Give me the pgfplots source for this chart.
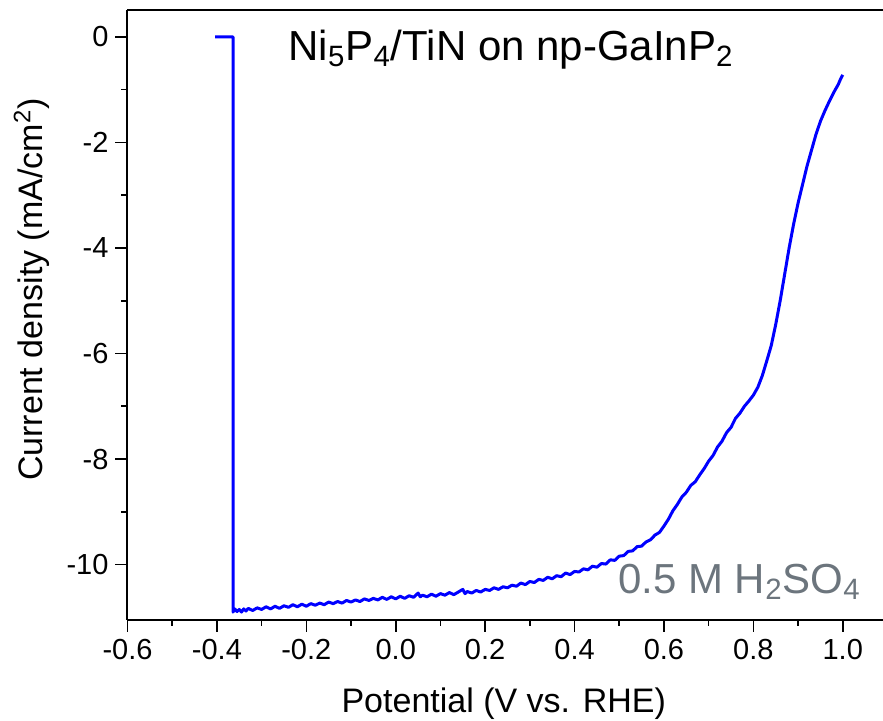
\documentclass[border=0pt]{standalone}
\usepackage{fontspec}
\setmainfont{Liberation Sans}
\usepackage{pgfplots}
\pgfplotsset{compat=1.18}
\definecolor{saltgray}{RGB}{108,117,125}
\begin{document}
\begin{tikzpicture}
\begin{axis}[
  scale only axis,
  width=377.75pt, height=304.75pt,
  xmin=-0.6, xmax=1.09, ymin=-11.05, ymax=0.5,
  axis x line*=box, axis y line*=left,
  axis line style={-, line width=1pt, black},
  xtick={-0.6,-0.4,...,1.01}, ytick={-10,-8,...,0},
  minor x tick num=1, minor y tick num=1,
  xtick pos=bottom, ytick pos=left,
  tick align=outside,
  major tick length=6pt, minor tick length=3pt,
  every tick/.style={black, line width=0.8pt},
  /pgf/number format/assume math mode=true,
  tick label style={font=\fontsize{14.5}{14.5}\selectfont},
  xticklabel style={/pgf/number format/.cd, fixed, fixed zerofill, precision=1},
  yticklabel style={/pgf/number format/.cd, fixed, precision=0},
  xlabel={Potential (V vs. RHE)},
  ylabel={Current density (mA/cm\textsuperscript{2})},
  label style={font=\fontsize{17}{17}\selectfont},
  xlabel style={at={(axis description cs:0.498,-0.152)}, anchor=base},
  ylabel style={at={(axis description cs:-0.112,0.542)}, anchor=base},
  clip=true,
]
\addplot[blue, line width=1.5pt, line join=round] coordinates {
(-0.404,0) (-0.364,0) (-0.364,-10.90)
(-0.36,-10.84) (-0.355,-10.89) (-0.35,-10.85) (-0.345,-10.90) (-0.34,-10.84)
(-0.335,-10.88) (-0.33,-10.83) (-0.32,-10.87) (-0.31,-10.82) (-0.30,-10.85)
(-0.29,-10.80) (-0.28,-10.84) (-0.27,-10.79) (-0.26,-10.83) (-0.25,-10.78)
(-0.24,-10.81) (-0.23,-10.76) (-0.22,-10.80) (-0.21,-10.75) (-0.20,-10.79)
(-0.19,-10.74) (-0.18,-10.77) (-0.17,-10.73) (-0.16,-10.76) (-0.15,-10.71)
(-0.14,-10.74) (-0.13,-10.70) (-0.12,-10.73) (-0.11,-10.68) (-0.10,-10.71)
(-0.09,-10.67) (-0.08,-10.70) (-0.07,-10.65) (-0.06,-10.68) (-0.05,-10.64)
(-0.04,-10.67) (-0.03,-10.62) (-0.02,-10.66) (-0.01,-10.61) (0.00,-10.65)
(0.01,-10.60) (0.02,-10.64) (0.03,-10.59) (0.04,-10.62) (0.05,-10.54)
(0.055,-10.61) (0.06,-10.58) (0.07,-10.61) (0.08,-10.56) (0.09,-10.60)
(0.10,-10.55) (0.11,-10.58) (0.12,-10.53) (0.13,-10.57) (0.14,-10.52)
(0.15,-10.47) (0.155,-10.55) (0.16,-10.51) (0.17,-10.54) (0.18,-10.49)
(0.19,-10.52) (0.20,-10.47) (0.21,-10.49) (0.22,-10.44) (0.23,-10.47)
(0.24,-10.42) (0.25,-10.44) (0.26,-10.39) (0.27,-10.41) (0.28,-10.35)
(0.29,-10.38) (0.30,-10.32) (0.31,-10.34) (0.32,-10.28) (0.33,-10.30)
(0.34,-10.24) (0.35,-10.27) (0.36,-10.21) (0.37,-10.23) (0.38,-10.16)
(0.39,-10.19) (0.40,-10.13) (0.41,-10.14) (0.42,-10.08) (0.43,-10.10)
(0.44,-10.03) (0.45,-10.05) (0.46,-9.98) (0.47,-9.99) (0.48,-9.91)
(0.49,-9.92) (0.50,-9.84) (0.51,-9.83) (0.52,-9.75) (0.53,-9.74)
(0.54,-9.66) (0.55,-9.65) (0.56,-9.57) (0.57,-9.53) (0.58,-9.44)
(0.59,-9.39) (0.60,-9.27) (0.61,-9.14) (0.62,-8.98) (0.63,-8.86)
(0.64,-8.72) (0.65,-8.63) (0.66,-8.50) (0.67,-8.43) (0.68,-8.30)
(0.69,-8.18) (0.70,-8.04) (0.71,-7.93) (0.72,-7.77) (0.73,-7.66)
(0.74,-7.50) (0.75,-7.40) (0.76,-7.23) (0.77,-7.13) (0.78,-7.00)
(0.79,-6.90) (0.80,-6.79) (0.81,-6.64) (0.82,-6.42) (0.83,-6.14)
(0.84,-5.85) (0.85,-5.45) (0.86,-5.00) (0.87,-4.50) (0.88,-4.00)
(0.89,-3.55) (0.90,-3.15) (0.91,-2.80) (0.92,-2.45) (0.93,-2.15)
(0.94,-1.85) (0.95,-1.60) (0.96,-1.40) (0.97,-1.22) (0.98,-1.05)
(0.99,-0.90) (0.995,-0.80) (1.00,-0.72)
};
\node[anchor=base, font=\fontsize{21}{21}\selectfont] at (axis cs:0.258,-0.44)
  {Ni\textsubscript{5}P\textsubscript{4}/TiN on np-GaInP\textsubscript{2}};
\node[anchor=base west, inner sep=0pt, text=saltgray, font=\fontsize{21}{21}\selectfont] at (axis cs:0.497,-10.55)
  {0.5 M H\textsubscript{2}SO\textsubscript{4}};
\end{axis}
\pgfresetboundingbox
\path[use as bounding box] (-63.75pt,-50.5pt) rectangle (377.75pt,310pt);
\end{tikzpicture}
\end{document}
